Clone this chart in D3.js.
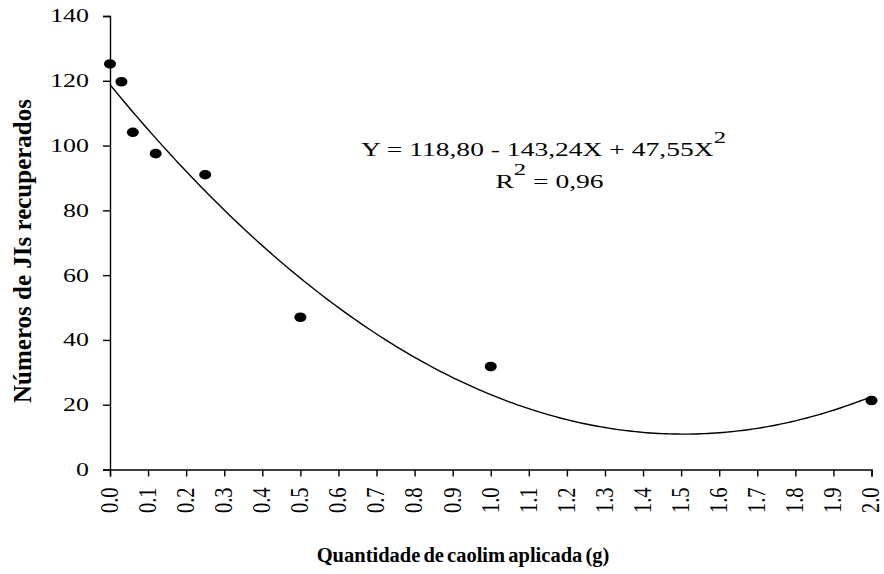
<!DOCTYPE html>
<html>
<head>
<meta charset="utf-8">
<script src="https://cdn.jsdelivr.net/npm/d3@7"></script>
<style>
  html, body { margin: 0; padding: 0; background: #fff; }
  svg { display: block; }
  text { font-family: "Liberation Serif", "Times New Roman", serif; }
</style>
</head>
<body>
<svg id="chart" width="884" height="574"></svg>
<script>
// ---- data ----
const doses = [0, 0.03, 0.06, 0.12, 0.25, 0.5, 1.0, 2.0];
const recovered = [125.2, 119.7, 104.1, 97.5, 91.0, 47.0, 31.8, 21.3];
const yTicks = [0, 20, 40, 60, 80, 100, 120, 140];
const xTicks = [0.0, 0.1, 0.2, 0.3, 0.4, 0.5, 0.6, 0.7, 0.8, 0.9, 1.0, 1.1, 1.2, 1.3, 1.4, 1.5, 1.6, 1.7, 1.8, 1.9, 2.0];
const coef = [118.80, -143.24, 47.55]; // regression Y = a + bX + cX^2
const eqLine1 = ["Y = 118,80 - 143,24X + 47,55X", "2"];
const eqLine2 = ["R", "2", " = 0,96"];
const xTitle = "Quantidade de caolim aplicada (g)";
const yTitle = "Números de JIs recuperados";

const FONT = '"Liberation Serif", "Times New Roman", serif';
const svg = d3.select("#chart");
const x = d3.scaleLinear().domain([0, 2]).range([110, 871.5]);
const y = d3.scaleLinear().domain([0, 140]).range([469.5, 16]);
const SXY = 1.4;
const SXX = 1.2;

// axes
const gy = svg.append("g").attr("transform", `translate(${x(0)},0)`)
  .call(d3.axisLeft(y).tickValues(yTicks).tickSize(7).tickFormat(d3.format("d")));
gy.selectAll("text")
  .attr("x", 0)
  .attr("font-size", 18.5)
  .attr("font-family", FONT)
  .attr("fill", "#000")
  .attr("transform", `translate(-21,0) scale(${SXY},1)`);

const gx = svg.append("g").attr("transform", `translate(0,${y(0)})`)
  .call(d3.axisBottom(x).tickValues(xTicks).tickSize(7).tickFormat(d3.format(".1f")));
gx.selectAll("text")
  .attr("x", 0).attr("y", 0)
  .attr("dy", "0.3em")
  .attr("text-anchor", "end")
  .attr("font-size", 20.5)
  .attr("font-family", FONT)
  .attr("fill", "#000")
  .attr("transform", `translate(0,18) scale(${SXX},1) rotate(-90)`);

[gx, gy].forEach(g => {
  g.selectAll("path, line").attr("stroke", "#000").attr("stroke-width", 1.4);
  g.attr("font-family", FONT);
});

// fitted curve
const curvePts = d3.range(0, 2.0001, 0.01).map(v => [v, coef[0] + coef[1] * v + coef[2] * v * v]);
svg.append("path")
  .datum(curvePts)
  .attr("fill", "none")
  .attr("stroke", "#000")
  .attr("stroke-width", 1.4)
  .attr("d", d3.line().x(d => x(d[0])).y(d => y(d[1])));

// points
svg.append("g").selectAll("ellipse")
  .data(doses.map((d, i) => [d, recovered[i]]))
  .join("ellipse")
  .attr("cx", d => x(d[0]))
  .attr("cy", d => y(d[1]))
  .attr("rx", 6)
  .attr("ry", 4.8)
  .attr("fill", "#000");

// equation
const eq1 = svg.append("text")
  .attr("transform", `translate(543.5,156) scale(1.45,1)`)
  .attr("text-anchor", "middle")
  .attr("font-family", FONT)
  .attr("font-size", 19);
eq1.append("tspan").text(eqLine1[0]);
eq1.append("tspan").attr("font-size", 17).attr("dy", -13).text(eqLine1[1]);

const eq2 = svg.append("text")
  .attr("transform", `translate(549.5,187.5) scale(1.45,1)`)
  .attr("text-anchor", "middle")
  .attr("font-family", FONT)
  .attr("font-size", 19);
eq2.append("tspan").text(eqLine2[0]);
eq2.append("tspan").attr("font-size", 17).attr("dy", -13).text(eqLine2[1]);
eq2.append("tspan").attr("dy", 13).text(eqLine2[2]);

// axis titles
svg.append("text")
  .attr("x", 463).attr("y", 562)
  .attr("text-anchor", "middle")
  .attr("font-family", FONT)
  .attr("font-weight", "bold")
  .attr("font-size", 20.5)
  .attr("word-spacing", -2)
  .text(xTitle);

svg.append("text")
  .attr("transform", "translate(31,251) rotate(-90)")
  .attr("text-anchor", "middle")
  .attr("font-family", FONT)
  .attr("font-weight", "bold")
  .attr("font-size", 25)
  .text(yTitle);
</script>
</body>
</html>
